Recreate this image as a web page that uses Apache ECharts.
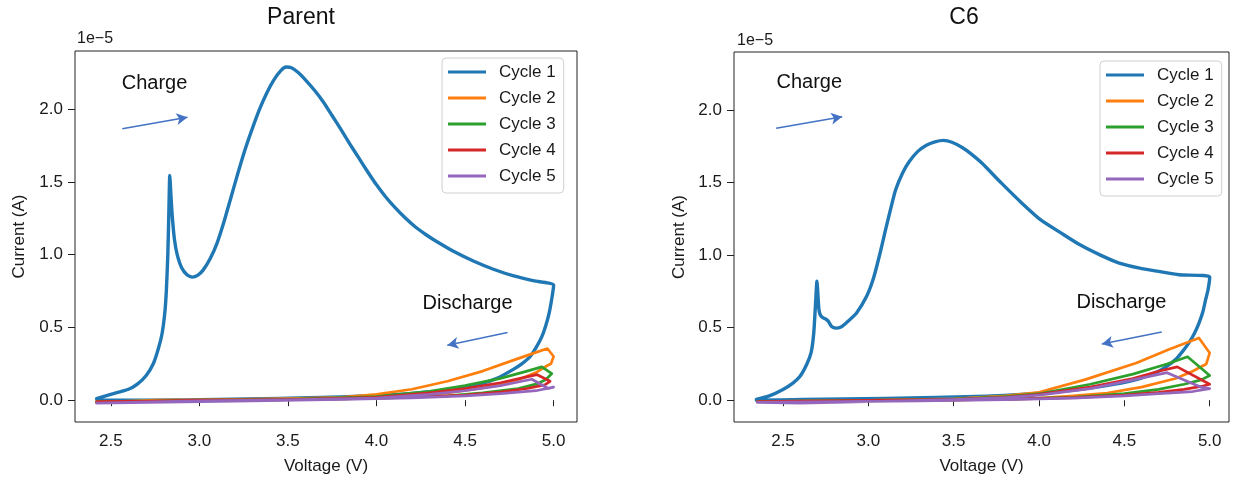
<!DOCTYPE html>
<html>
<head>
<meta charset="utf-8">
<script src="https://cdn.jsdelivr.net/npm/echarts@6/dist/echarts.min.js"></script>
<style>
html,body{margin:0;padding:0;background:#fff;}
#chart{width:1238px;height:480px;}
</style>
</head>
<body>
<div id="chart"></div>
<script>
// ---------- DATA (voltage V, current in units of 1e-5 A) ----------
const cycleNames = ['Cycle 1','Cycle 2','Cycle 3','Cycle 4','Cycle 5'];
const xTicks = [2.5, 3.0, 3.5, 4.0, 4.5, 5.0];
const yTicks = [0.0, 0.5, 1.0, 1.5, 2.0];

const parentCycle1 = [[2.42,0.01],[2.5,0.04],[2.6,0.075],[2.65,0.11],[2.70,0.17],[2.74,0.25],[2.77,0.36],[2.79,0.46],[2.805,0.6],[2.814,0.76],[2.822,1.0],[2.828,1.3],[2.833,1.545],[2.84,1.40],[2.848,1.25],[2.86,1.1],[2.875,1.0],[2.9,0.91],[2.93,0.862],[2.96,0.846],[2.99,0.858],[3.02,0.892],[3.06,0.97],[3.1,1.08],[3.14,1.23],[3.18,1.4],[3.22,1.57],[3.26,1.73],[3.3,1.87],[3.34,2.0],[3.38,2.11],[3.42,2.2],[3.46,2.265],[3.49,2.29],[3.52,2.285],[3.56,2.25],[3.6,2.2],[3.65,2.13],[3.7,2.05],[3.75,1.955],[3.8,1.86],[3.85,1.76],[3.9,1.665],[3.95,1.57],[4.0,1.48],[4.05,1.40],[4.1,1.33],[4.16,1.255],[4.22,1.19],[4.28,1.137],[4.33,1.098],[4.44,1.02],[4.55,0.955],[4.66,0.9],[4.78,0.852],[4.89,0.82],[5.0,0.79],[4.99,0.70],[4.975,0.6],[4.955,0.51],[4.933,0.435],[4.9,0.36],[4.867,0.30],[4.82,0.25],[4.77,0.21],[4.68,0.15],[4.58,0.11],[4.4,0.07],[4.2,0.046],[4.0,0.032],[3.8,0.022],[3.45,0.012],[3.1,0.005],[2.7,0.0],[2.43,0.0]];
const parentCycle2 = [[2.42,-0.015],[2.75,0.0],[3.0,0.003],[3.5,0.01],[3.8,0.02],[4.0,0.04],[4.2,0.075],[4.4,0.13],[4.6,0.2],[4.75,0.265],[4.88,0.32],[4.965,0.355],[5.0,0.30],[4.985,0.25],[4.96,0.235],[4.9,0.19],[4.8,0.14],[4.6,0.085],[4.4,0.05],[4.2,0.03],[4.0,0.018],[3.5,0.005],[3.0,0.0],[2.42,-0.01]];
const parentCycle3 = [[2.42,-0.015],[3.0,0.0],[3.5,0.005],[4.0,0.025],[4.3,0.06],[4.5,0.1],[4.7,0.15],[4.85,0.2],[4.933,0.229],[4.99,0.183],[4.955,0.14],[4.9,0.11],[4.8,0.08],[4.6,0.05],[4.4,0.03],[4.0,0.012],[3.5,0.003],[2.42,-0.01]];
const parentCycle4 = [[2.42,-0.015],[3.0,0.0],[3.5,0.004],[4.0,0.02],[4.3,0.05],[4.5,0.08],[4.7,0.12],[4.83,0.155],[4.905,0.176],[4.98,0.13],[4.95,0.105],[4.85,0.08],[4.7,0.055],[4.5,0.035],[4.2,0.02],[3.8,0.008],[3.3,0.0],[2.42,-0.01]];
const parentCycle5 = [[2.42,-0.02],[3.0,-0.005],[3.5,0.002],[4.0,0.015],[4.3,0.04],[4.5,0.065],[4.7,0.1],[4.82,0.13],[4.877,0.144],[4.97,0.08],[5.0,0.09],[4.9,0.065],[4.7,0.045],[4.5,0.03],[4.2,0.015],[3.8,0.005],[3.3,-0.005],[2.42,-0.02]];

const c6Cycle1 = [[2.344,0.005],[2.42,0.03],[2.5,0.074],[2.56,0.12],[2.6,0.165],[2.64,0.25],[2.665,0.33],[2.68,0.46],[2.69,0.65],[2.699,0.82],[2.705,0.72],[2.711,0.62],[2.72,0.585],[2.735,0.567],[2.75,0.56],[2.765,0.545],[2.785,0.508],[2.81,0.497],[2.84,0.505],[2.87,0.533],[2.93,0.6],[2.99,0.716],[3.03,0.84],[3.07,1.02],[3.1,1.17],[3.13,1.315],[3.16,1.45],[3.2,1.565],[3.24,1.645],[3.29,1.715],[3.34,1.758],[3.39,1.781],[3.44,1.791],[3.49,1.778],[3.55,1.742],[3.6,1.70],[3.665,1.635],[3.78,1.496],[3.9,1.358],[4.01,1.243],[4.13,1.152],[4.24,1.071],[4.36,1.0],[4.47,0.945],[4.59,0.91],[4.7,0.888],[4.82,0.865],[5.0,0.85],[4.99,0.76],[4.976,0.693],[4.96,0.61],[4.937,0.532],[4.91,0.46],[4.878,0.395],[4.84,0.335],[4.8,0.28],[4.75,0.235],[4.7,0.2],[4.57,0.142],[4.37,0.096],[4.08,0.055],[3.69,0.028],[3.1,0.012],[2.62,0.005],[2.344,0.0]];
const c6Cycle2 = [[2.35,-0.01],[3.0,0.0],[3.5,0.01],[3.8,0.03],[4.0,0.055],[4.27,0.142],[4.57,0.257],[4.76,0.349],[4.937,0.429],[5.0,0.326],[4.98,0.25],[4.9,0.2],[4.8,0.15],[4.6,0.09],[4.4,0.05],[4.2,0.03],[4.0,0.015],[3.5,0.0],[2.35,-0.01]];
const c6Cycle3 = [[2.35,-0.01],[3.0,0.0],[3.5,0.008],[3.8,0.025],[4.0,0.045],[4.3,0.11],[4.55,0.18],[4.75,0.25],[4.87,0.30],[5.0,0.17],[4.95,0.14],[4.85,0.11],[4.7,0.075],[4.5,0.045],[4.2,0.02],[3.8,0.008],[3.3,0.0],[2.35,-0.01]];
const c6Cycle4 = [[2.35,-0.01],[3.0,0.0],[3.5,0.006],[3.8,0.02],[4.0,0.04],[4.3,0.09],[4.55,0.15],[4.7,0.2],[4.81,0.23],[5.0,0.11],[4.95,0.095],[4.85,0.075],[4.7,0.055],[4.5,0.035],[4.2,0.018],[3.8,0.006],[3.3,0.0],[2.35,-0.01]];
const c6Cycle5 = [[2.35,-0.015],[2.6,-0.02],[3.0,-0.01],[3.5,0.004],[3.8,0.018],[4.0,0.035],[4.3,0.08],[4.55,0.14],[4.75,0.19],[4.95,0.09],[5.0,0.08],[4.9,0.06],[4.7,0.045],[4.5,0.03],[4.2,0.015],[3.8,0.004],[3.3,-0.005],[2.35,-0.015]];

// annotations [x, y] in data units
const parentChargeArrow = [[2.565,1.865],[2.933,1.945]];
const parentDischargeArrow = [[4.74,0.465],[4.40,0.378]];
const parentChargeText = [2.747,2.178];
const parentDischargeText = [4.514,0.666];
const c6ChargeArrow = [[2.46,1.874],[2.847,1.954]];
const c6DischargeArrow = [[4.719,0.471],[4.368,0.388]];
const c6ChargeText = [2.654,2.188];
const c6DischargeText = [4.483,0.672];

const parentSeries = [parentCycle1,parentCycle2,parentCycle3,parentCycle4,parentCycle5];
const c6Series = [c6Cycle1,c6Cycle2,c6Cycle3,c6Cycle4,c6Cycle5];

// ---------- STYLE ----------
const colors = ['#1f77b4','#ff7f0e','#2ca02c','#d62728','#9467bd'];
const FONT = '"Liberation Sans", Arial, Helvetica, sans-serif';
const TXT = '#1a1a1a';
const ARROW = '#4472c4';

function xAxisCfg(gi, min, max){
  return {
    type:'value', gridIndex:gi, min:min, max:max,
    name:'Voltage (V)', nameLocation:'middle', nameGap:36,
    nameTextStyle:{fontFamily:FONT,fontSize:17,color:TXT},
    axisLine:{show:false},
    splitLine:{show:false},
    axisTick:{show:true, inside:false, length:6, lineStyle:{color:'#222',width:1}, customValues:xTicks},
    axisLabel:{show:true, margin:11, fontFamily:FONT, fontSize:17, color:TXT, customValues:xTicks,
      formatter:v=>v.toFixed(1)}
  };
}
function yAxisCfg(gi, gap){
  return {
    type:'value', gridIndex:gi, min:-0.15, max:2.40,
    name:'Current (A)', nameLocation:'middle', nameGap:gap, nameRotate:90,
    nameTextStyle:{fontFamily:FONT,fontSize:17,color:TXT},
    axisLine:{show:false},
    splitLine:{show:false},
    axisTick:{show:true, inside:false, length:7, lineStyle:{color:'#222',width:1}, customValues:yTicks},
    axisLabel:{show:true, margin:12, fontFamily:FONT, fontSize:17, color:TXT, customValues:yTicks,
      formatter:v=>v.toFixed(1)}
  };
}

function arrowLine(arr){
  return [{coord:arr[0]},{coord:arr[1]}];
}
function textPoint(pos, txt){
  return {coord:pos, symbol:'circle', symbolSize:1, itemStyle:{color:'rgba(0,0,0,0)'},
    label:{show:true, position:'inside', formatter:txt, fontFamily:FONT, fontSize:20, color:'#111'}};
}

const series = [];
function addPanel(list, gi, chargeArrow, dischargeArrow, chargeText, dischargeText){
  list.forEach((d,i)=>{
    const s = {
      type:'line', name:cycleNames[i], xAxisIndex:gi, yAxisIndex:gi,
      data:d, symbol:'none', showSymbol:false, smooth: i===0 ? 0.2 : false,
      lineStyle:{color:colors[i], width: i===0 ? 3.4 : 2.7, join:'round', cap:'round'},
      itemStyle:{color:colors[i]},
      emphasis:{disabled:true}, animation:false, z:2+i
    };
    if(i===0){
      s.markLine = {
        silent:true, symbol:['none','arrow'], symbolSize:[9,11],
        lineStyle:{color:ARROW, width:1.5, type:'solid'}, label:{show:false},
        data:[arrowLine(chargeArrow), arrowLine(dischargeArrow)], animation:false
      };
      s.markPoint = {
        silent:true,
        data:[textPoint(chargeText,'Charge'), textPoint(dischargeText,'Discharge')], animation:false
      };
    }
    series.push(s);
  });
}
addPanel(parentSeries, 0, parentChargeArrow, parentDischargeArrow, parentChargeText, parentDischargeText);
addPanel(c6Series, 1, c6ChargeArrow, c6DischargeArrow, c6ChargeText, c6DischargeText);

function legendCfg(left, top){
  return {
    orient:'vertical', left:left, top:top,
    data:cycleNames,
    icon:'rect',
    itemWidth:38, itemHeight:3, itemGap:8,
    padding:[5,8,8,6],
    backgroundColor:'rgba(255,255,255,0.85)',
    borderColor:'#d0d0d0', borderWidth:1, borderRadius:4,
    textStyle:{fontFamily:FONT, fontSize:17, color:TXT, lineHeight:18, padding:[0,0,0,8]},
    selectedMode:false
  };
}

const option = {
  animation:false,
  backgroundColor:'#fff',
  grid:[
    {left:75, top:51, width:502, height:371, show:true, borderColor:'#222', borderWidth:1, backgroundColor:'transparent'},
    {left:734, top:52, width:495, height:370, show:true, borderColor:'#222', borderWidth:1, backgroundColor:'transparent'}
  ],
  xAxis:[xAxisCfg(0, 2.298, 5.132), xAxisCfg(1, 2.213, 5.113)],
  yAxis:[yAxisCfg(0, 47), yAxisCfg(1, 46)],
  legend:[legendCfg(442,58), legendCfg(1100,61)],
  graphic:[
    {type:'text', x:301, y:18, style:{text:'Parent', font:'23px '+FONT, fill:'#111', textAlign:'center', textVerticalAlign:'middle'}},
    {type:'text', x:964, y:18, style:{text:'C6', font:'23px '+FONT, fill:'#111', textAlign:'center', textVerticalAlign:'middle'}},
    {type:'text', x:77, y:39, style:{text:'1e\u22125', font:'16px '+FONT, fill:TXT, textAlign:'left', textVerticalAlign:'middle'}},
    {type:'text', x:737, y:41, style:{text:'1e\u22125', font:'16px '+FONT, fill:TXT, textAlign:'left', textVerticalAlign:'middle'}}
  ],
  series:series
};

const chart = echarts.init(document.getElementById('chart'), null, {renderer:'canvas'});
chart.setOption(option);
</script>
</body>
</html>
